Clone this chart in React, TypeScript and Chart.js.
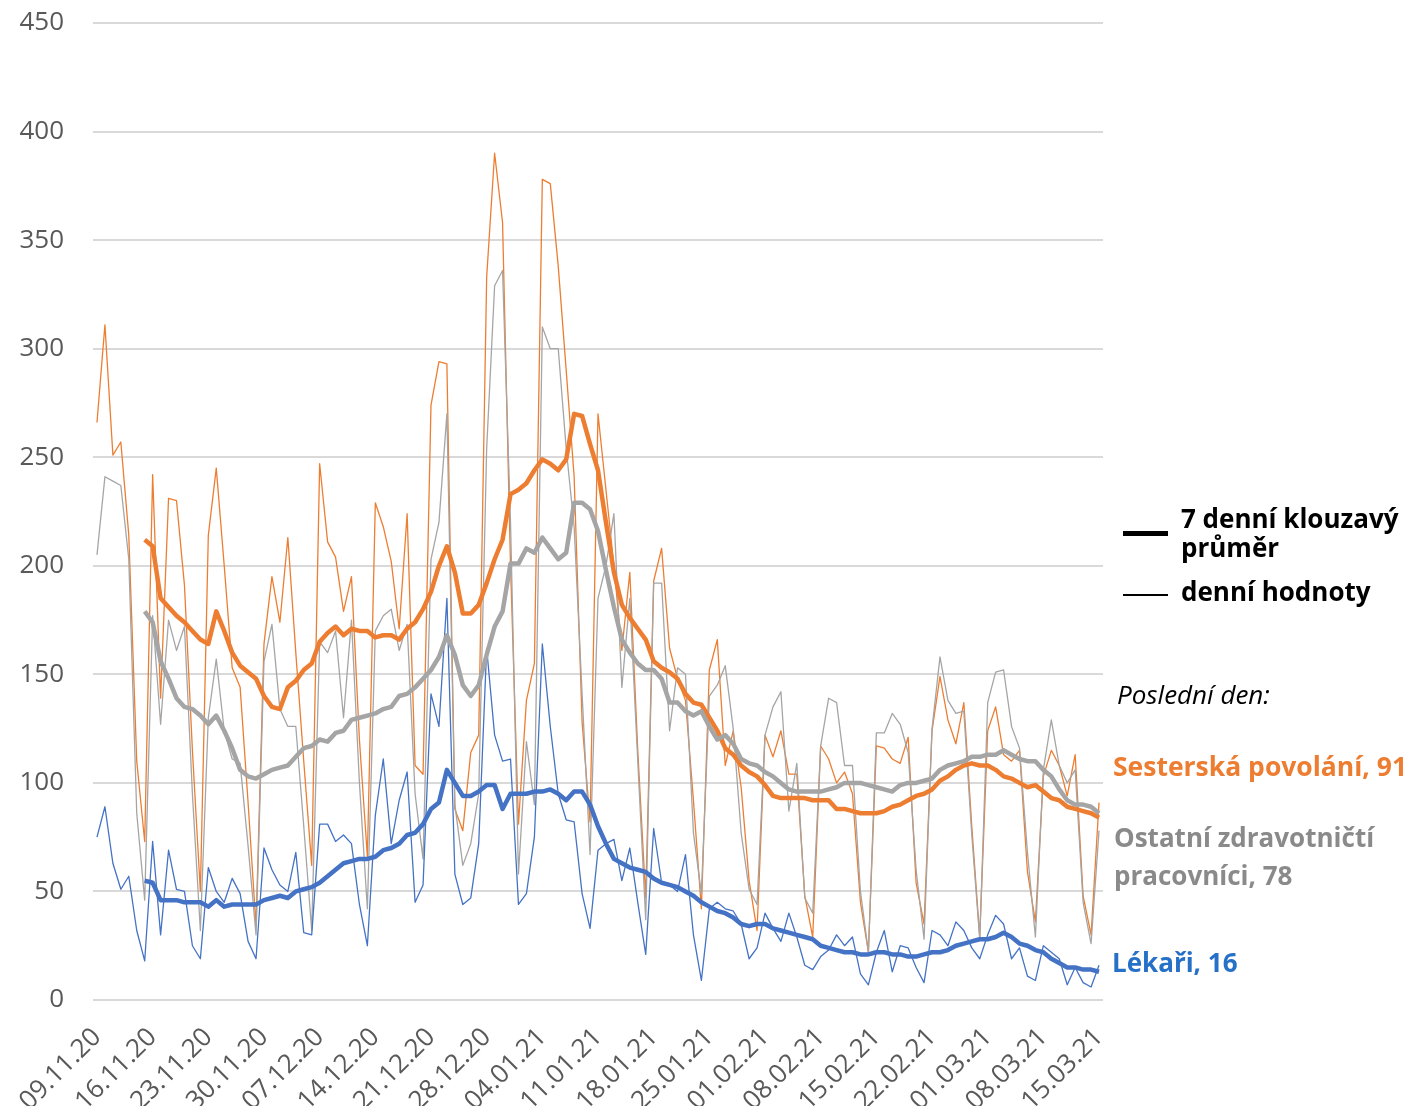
import { useEffect, useRef } from 'react';
import { Chart, registerables } from 'chart.js';

Chart.register(...registerables);

const DATES = [
  '09.11.20','10.11.20','11.11.20','12.11.20','13.11.20','14.11.20','15.11.20','16.11.20','17.11.20','18.11.20','19.11.20','20.11.20','21.11.20','22.11.20','23.11.20','24.11.20','25.11.20','26.11.20','27.11.20','28.11.20','29.11.20','30.11.20',
  '01.12.20','02.12.20','03.12.20','04.12.20','05.12.20','06.12.20','07.12.20','08.12.20','09.12.20','10.12.20','11.12.20','12.12.20','13.12.20','14.12.20','15.12.20','16.12.20','17.12.20','18.12.20','19.12.20','20.12.20','21.12.20','22.12.20','23.12.20','24.12.20','25.12.20','26.12.20','27.12.20','28.12.20','29.12.20','30.12.20','31.12.20',
  '01.01.21','02.01.21','03.01.21','04.01.21','05.01.21','06.01.21','07.01.21','08.01.21','09.01.21','10.01.21','11.01.21','12.01.21','13.01.21','14.01.21','15.01.21','16.01.21','17.01.21','18.01.21','19.01.21','20.01.21','21.01.21','22.01.21','23.01.21','24.01.21','25.01.21','26.01.21','27.01.21','28.01.21','29.01.21','30.01.21','31.01.21',
  '01.02.21','02.02.21','03.02.21','04.02.21','05.02.21','06.02.21','07.02.21','08.02.21','09.02.21','10.02.21','11.02.21','12.02.21','13.02.21','14.02.21','15.02.21','16.02.21','17.02.21','18.02.21','19.02.21','20.02.21','21.02.21','22.02.21','23.02.21','24.02.21','25.02.21','26.02.21','27.02.21','28.02.21',
  '01.03.21','02.03.21','03.03.21','04.03.21','05.03.21','06.03.21','07.03.21','08.03.21','09.03.21','10.03.21','11.03.21','12.03.21','13.03.21','14.03.21','15.03.21'
];

const TICK_LABELS = [
  '09.11.20','16.11.20','23.11.20','30.11.20','07.12.20','14.12.20','21.12.20','28.12.20','04.01.21','11.01.21',
  '18.01.21','25.01.21','01.02.21','08.02.21','15.02.21','22.02.21','01.03.21','08.03.21','15.03.21'
];

// Sesterská povolání – denní hodnoty
const SESTRY_DAILY = [
  266,311,251,257,214,110,73,242,139,231,230,191,115,50,214,245,200,153,144,91,34,164,
  195,174,213,160,110,62,247,211,204,179,195,120,66,229,218,202,171,224,108,104,274,294,293,88,78,114,122,333,390,358,200,
  81,138,155,378,376,338,290,241,128,82,270,235,200,161,197,115,47,193,208,162,148,138,92,42,152,166,108,124,98,55,32,
  122,112,124,104,104,48,29,117,111,100,105,95,45,22,117,116,111,109,121,54,35,124,149,129,118,137,80,29,
  124,135,113,110,115,59,36,103,115,108,94,113,48,30,91
];

// Ostatní zdravotničtí pracovníci – denní hodnoty
const OSTATNI_DAILY = [
  205,241,239,237,203,86,46,177,127,175,161,172,95,32,130,157,124,111,109,71,30,156,
  173,134,126,126,80,32,165,160,170,130,175,100,42,170,177,180,161,173,95,65,203,220,270,90,62,72,95,254,329,336,220,
  58,119,90,310,300,300,254,218,141,67,185,200,224,144,185,110,37,192,192,124,153,150,77,49,140,145,154,125,77,51,44,
  122,135,142,87,109,47,40,117,139,137,108,108,50,22,123,123,132,127,114,60,28,125,158,138,132,133,76,28,
  137,151,152,126,116,68,29,106,129,108,100,106,45,26,78
];

// Lékaři – denní hodnoty
const LEKARI_DAILY = [
  75,89,63,51,57,32,18,73,30,69,51,50,25,19,61,50,45,56,49,27,19,70,
  60,53,50,68,31,30,81,81,73,76,72,44,25,85,111,72,92,105,45,53,141,126,185,58,44,47,72,162,122,110,111,
  44,49,75,164,126,95,83,82,49,33,69,72,74,55,70,45,21,79,54,53,50,67,30,9,42,45,42,41,35,19,24,
  40,33,27,40,29,16,14,20,23,30,25,29,12,7,22,32,13,25,24,15,8,32,30,25,36,32,24,19,
  30,39,35,19,24,11,9,25,22,19,7,15,8,6,16
];

// 7denní klouzavý průměr (od 15.11.20)
const SESTRY_MA = [
  212,209,185,181,177,174,170,166,164,179,170,160,154,151,148,140,
  135,134,144,147,152,155,165,169,172,168,171,170,170,167,168,168,166,171,174,180,188,200,
  209,197,178,178,182,192,203,212,233,235,238,244,249,247,244,249,270,269,256,244,220,
  197,182,176,171,166,156,153,151,148,141,137,136,130,124,116,113,108,105,103,99,94,
  93,93,93,93,92,92,92,88,88,87,86,86,86,87,89,90,92,94,95,97,101,
  103,106,108,109,108,108,106,103,102,100,98,99,96,93,92,89,88,87,86,84
];

const OSTATNI_MA = [
  179,174,156,148,139,135,134,131,127,131,124,116,106,103,102,104,
  106,107,108,112,116,117,120,119,123,124,129,130,131,132,134,135,140,141,144,148,152,158,
  168,159,145,140,145,159,172,179,201,201,208,206,213,208,203,206,229,229,226,216,198,
  181,166,160,155,152,152,148,137,137,133,131,133,126,120,122,118,111,109,108,105,103,
  100,97,96,96,96,96,97,98,100,100,100,99,98,97,96,99,100,100,101,102,106,
  108,109,110,112,112,113,113,115,113,111,110,110,106,103,97,92,90,90,89,86
];

const LEKARI_MA = [
  55,54,46,46,46,45,45,45,43,46,43,44,44,44,44,46,
  47,48,47,50,51,52,54,57,60,63,64,65,65,66,69,70,72,76,77,81,88,91,
  106,100,94,94,96,99,99,88,95,95,95,96,96,97,95,92,96,96,90,80,72,
  65,63,61,60,59,56,54,53,52,50,48,45,43,41,40,38,35,34,35,35,33,
  32,31,30,29,28,25,24,23,22,22,21,21,22,22,21,21,20,20,21,22,22,
  23,25,26,27,28,28,29,31,29,26,25,23,22,19,17,15,15,14,14,13
];

const MA_START = 6;

const ORANGE = '#ED7D31';
const GREY = '#A5A5A5';
const BLUE = '#4472C4';
const FONT = "'Open Sans', 'DejaVu Sans', sans-serif";

function padMA(values: number[]): (number | null)[] {
  const out: (number | null)[] = [];
  for (let i = 0; i < MA_START; i++) out.push(null);
  return out.concat(values);
}

export default function App() {
  const canvasRef = useRef<HTMLCanvasElement | null>(null);

  useEffect(() => {
    const canvas = canvasRef.current;
    if (!canvas) return;
    const chart = new Chart(canvas, {
      type: 'line',
      data: {
        labels: DATES,
        datasets: [
          { label: 'Lékaři (7d)', data: padMA(LEKARI_MA), borderColor: BLUE, borderWidth: 4.5, order: 0 },
          { label: 'Ostatní (7d)', data: padMA(OSTATNI_MA), borderColor: GREY, borderWidth: 4.5, order: 1 },
          { label: 'Sestry (7d)', data: padMA(SESTRY_MA), borderColor: ORANGE, borderWidth: 4.5, order: 2 },
          { label: 'Lékaři', data: LEKARI_DAILY, borderColor: BLUE, borderWidth: 1.3, order: 3 },
          { label: 'Ostatní', data: OSTATNI_DAILY, borderColor: GREY, borderWidth: 1.3, order: 4 },
          { label: 'Sestry', data: SESTRY_DAILY, borderColor: ORANGE, borderWidth: 1.3, order: 5 },
        ].map((d) => ({
          ...d,
          pointRadius: 0,
          pointHoverRadius: 0,
          tension: 0,
          fill: false,
          borderJoinStyle: 'round' as const,
          spanGaps: false,
        })),
      },
      options: {
        animation: false,
        responsive: false,
        maintainAspectRatio: false,
        events: [],
        layout: { padding: { top: 23, right: 311, bottom: 0, left: 0 } },
        plugins: {
          legend: { display: false },
          tooltip: { enabled: false },
          title: { display: false },
        },
        scales: {
          x: {
            type: 'category',
            offset: true,
            grid: { display: false, drawTicks: false },
            border: { display: false },
            ticks: {
              autoSkip: false,
              maxRotation: 45,
              minRotation: 45,
              padding: 22,
              color: '#595959',
              font: { family: FONT, size: 26 },
              callback: function (_v: any, index: number) {
                const d = DATES[index];
                return TICK_LABELS.includes(d) ? d : null;
              },
            },
            afterFit: (scale: any) => {
              scale.height = 106;
              scale.paddingLeft = 0;
              scale.paddingRight = 0;
            },
          },
          y: {
            min: 0,
            max: 450,
            grid: { color: '#D9D9D9', lineWidth: 2, drawTicks: false },
            border: { display: false },
            ticks: {
              stepSize: 50,
              padding: 29,
              color: '#595959',
              font: { family: FONT, size: 26 },
            },
            afterFit: (scale: any) => {
              scale.width = 93;
              scale.paddingTop = 0;
              scale.paddingBottom = 0;
            },
          },
        },
      },
    });
    return () => chart.destroy();
  }, []);

  const base: React.CSSProperties = {
    position: 'absolute',
    fontFamily: FONT,
    fontSize: 26,
    whiteSpace: 'nowrap',
    margin: 0,
  };

  return (
    <div style={{ position: 'absolute', left: 0, top: 0, width: 1414, height: 1106, background: '#ffffff', overflow: 'hidden' }}>
      <canvas ref={canvasRef} width={1414} height={1106} style={{ position: 'absolute', left: 0, top: 0, width: 1414, height: 1106 }} />
      <div style={{ position: 'absolute', left: 1123, top: 531, width: 45, height: 5, background: '#000' }} />
      <div style={{ ...base, left: 1181, top: 504, lineHeight: '29px', fontWeight: 700, color: '#000' }}>
        7 denní klouzavý<br />průměr
      </div>
      <div style={{ position: 'absolute', left: 1123, top: 594, width: 45, height: 1.5, background: '#000' }} />
      <div style={{ ...base, left: 1181, top: 577, lineHeight: '29px', fontWeight: 700, color: '#000' }}>denní hodnoty</div>
      <div style={{ ...base, left: 1117, top: 680, lineHeight: '29px', fontStyle: 'italic', color: '#000' }}>Poslední den:</div>
      <div style={{ ...base, left: 1113, top: 752, lineHeight: '29px', fontWeight: 700, color: ORANGE, fontSize: 26.5 }}>Sesterská povolání, 91</div>
      <div style={{ ...base, left: 1114, top: 818, lineHeight: '38px', fontWeight: 700, color: '#8A8A8A' }}>
        Ostatní zdravotničtí<br />pracovníci, 78
      </div>
      <div style={{ ...base, left: 1112, top: 948, lineHeight: '29px', fontWeight: 700, color: '#2671C7' }}>Lékaři, 16</div>
    </div>
  );
}
